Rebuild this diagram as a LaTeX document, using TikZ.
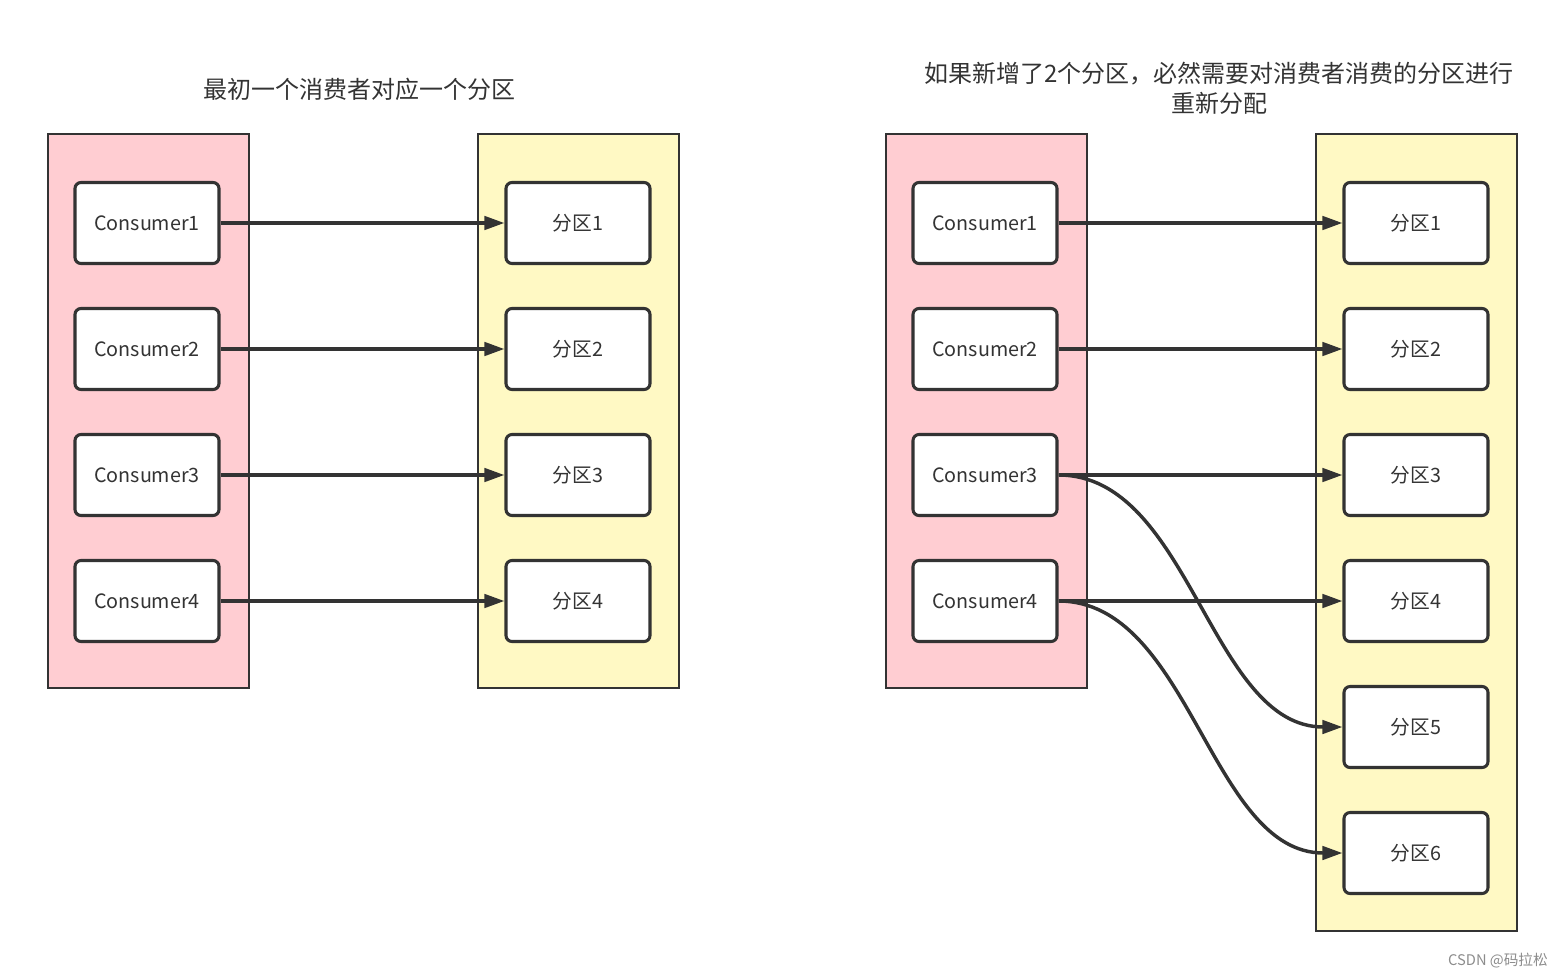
\documentclass[tikz,border=0pt]{standalone}
\usepackage{fontspec}
\newfontfamily\cjk{Noto Sans CJK SC}
\usetikzlibrary{arrows.meta}
\definecolor{ln}{HTML}{333333}
\definecolor{pinkf}{HTML}{FFCDD2}
\definecolor{yelf}{HTML}{FFF9C4}
\tikzset{
  cont/.style={draw=ln, line width=2.2pt},
  item/.style={draw=ln, fill=white, line width=2.3pt, rounded corners=4.5pt,
     minimum width=108pt, minimum height=60.75pt, inner sep=0pt,
     font=\cjk\fontsize{14.8pt}{17pt}\selectfont, text=ln},
  conn/.style={draw=ln, line width=2.6pt, -{Triangle[length=15pt,width=10pt]}},
  ttl/.style={font=\cjk\fontsize{18pt}{22.5pt}\selectfont, text=ln, align=center},
}
\begin{document}
\begin{tikzpicture}[x=0.75pt,y=-0.75pt]
\useasboundingbox (0,0) rectangle (1565,978);
% containers
\filldraw[cont, fill=pinkf] (48,134) rectangle (249,688);
\filldraw[cont, fill=yelf] (478,134) rectangle (679,688);
\filldraw[cont, fill=pinkf] (886,134) rectangle (1087,688);
\filldraw[cont, fill=yelf] (1316,134) rectangle (1517,931);
% titles
\node[ttl] (t1) at (359,89) {最初一个消费者对应一个分区};
\node[ttl] (t2) at (1219,88) {如果新增了2个分区，必然需要对消费者消费的分区进行\\重新分配};
% left side
\foreach \i/\y in {1/223,2/349,3/475,4/601}{
  \node[item] (lc\i) at (147,\y) {Consumer\i};
  \node[item] (lp\i) at (578,\y) {分区\i};
  \draw[conn] (lc\i) -- (lp\i);
}
% right side
\foreach \i/\y in {1/223,2/349,3/475,4/601}{
  \node[item] (rc\i) at (985,\y) {Consumer\i};
}
\foreach \i/\y in {1/223,2/349,3/475,4/601,5/727,6/853}{
  \node[item] (rp\i) at (1416,\y) {分区\i};
}
\foreach \i in {1,2,3,4}{
  \draw[conn] (rc\i) -- (rp\i);
}
\draw[conn] (rc3.east) .. controls (1190,475) and (1210,727) .. (rp5.west);
\draw[conn] (rc4.east) .. controls (1190,601) and (1210,853) .. (rp6.west);
% watermark
\node[font=\cjk\fontsize{11pt}{12pt}\selectfont, text=black!45] (wm) at (1498,961) {CSDN @码拉松};
\end{tikzpicture}
\end{document}
